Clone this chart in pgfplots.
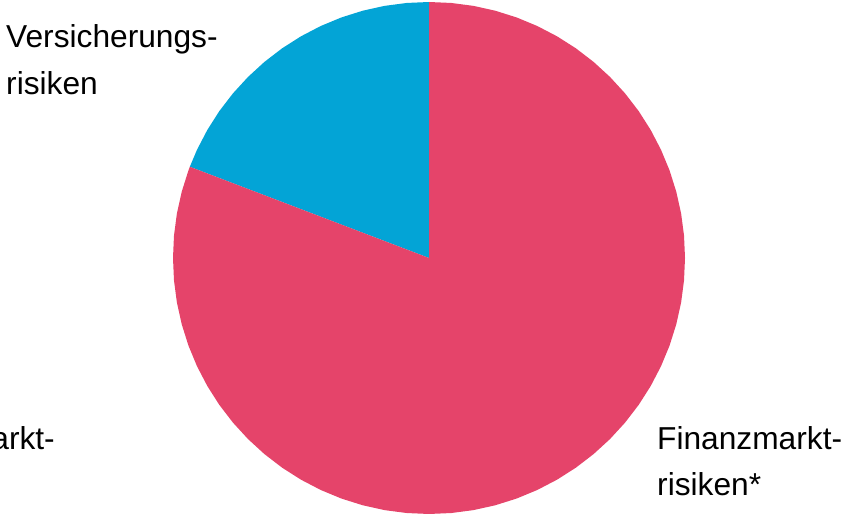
\documentclass[border=0pt]{standalone}
\usepackage{pgfplots}
\pgfplotsset{compat=1.18}
\usepackage{fontspec}
\setmainfont{Liberation Sans}
\definecolor{finred}{RGB}{229,68,106}
\definecolor{versblue}{RGB}{3,164,214}
\begin{document}
\begin{tikzpicture}
\useasboundingbox (0,0) rectangle (842bp,514bp);
\clip (0,0) rectangle (842bp,514bp);
\begin{axis}[
  at={(0,0)}, anchor=south west,
  scale only axis, width=842bp, height=514bp,
  xmin=-429, xmax=413, ymin=-256, ymax=258,
  hide axis, clip=false,
]
% Versicherungsrisiken: 19.2 % (90 deg to 159.12 deg)
\addplot[fill=versblue, draw=none, data cs=polar] coordinates {
(0,0) (90,256) (95,256) (100,256) (105,256) (110,256) (115,256) (120,256)
(125,256) (130,256) (135,256) (140,256) (145,256) (150,256) (155,256)
(159.12,256) (0,0)};
% Finanzmarktrisiken: 80.8 % (159.12 deg to 450 deg)
\addplot[fill=finred, draw=none, data cs=polar] coordinates {
(0,0) (159.12,256) (160,256) (165,256) (170,256) (175,256) (180,256) (185,256)
(190,256) (195,256) (200,256) (205,256) (210,256) (215,256) (220,256) (225,256)
(230,256) (235,256) (240,256) (245,256) (250,256) (255,256) (260,256) (265,256)
(270,256) (275,256) (280,256) (285,256) (290,256) (295,256) (300,256) (305,256)
(310,256) (315,256) (320,256) (325,256) (330,256) (335,256) (340,256) (345,256)
(350,256) (355,256) (360,256) (365,256) (370,256) (375,256) (380,256) (385,256)
(390,256) (395,256) (400,256) (405,256) (410,256) (415,256) (420,256) (425,256)
(430,256) (435,256) (440,256) (445,256) (450,256) (0,0)};
\end{axis}
\begin{scope}[every node/.style={inner sep=0pt, font=\fontsize{31.7bp}{38bp}\selectfont}]
\node[anchor=base west] at (6bp,466bp) {Versicherungs-};
\node[anchor=base west] at (6bp,419bp) {risiken};
\node[anchor=base west] at (657bp,64bp) {Finanzmarkt-};
\node[anchor=base west] at (657bp,19bp) {risiken*};
\node[anchor=base east] at (55bp,64bp) {Finanzmarkt-};
\end{scope}
\end{tikzpicture}
\end{document}
